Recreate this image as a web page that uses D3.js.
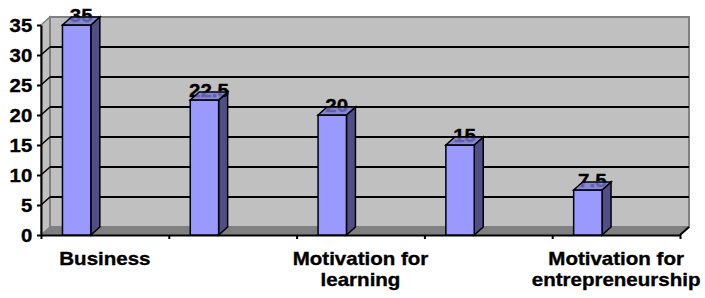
<!DOCTYPE html>
<html>
<head>
<meta charset="utf-8">
<script src="https://cdn.jsdelivr.net/npm/d3@7"></script>
<style>
  body { margin: 0; background: #fff; }
  text { font-family: "Liberation Sans", Arial, sans-serif; font-weight: bold; stroke: #000; stroke-width: 0.35px; }
</style>
</head>
<body>
<div id="chart"></div>
<script>
// chart data
const categories = ['Business', '', 'Motivation for learning', '', 'Motivation for entrepreneurship'];
const labelLines = [['Business'], [], ['Motivation for', 'learning'], [], ['Motivation for', 'entrepreneurship']];
const values = [35, 22.5, 20, 15, 7.5];
const yTicks = [0, 5, 10, 15, 20, 25, 30, 35];

const width = 705;
const height = 298;
const plotLeft = 41, plotRight = 680, plotBottom = 235, plotTop = 25;
const dx = 9, dy = -8;   // 3d depth offset
const stretch = 1.14;

const svg = d3.select('#chart')
    .append('svg')
    .attr('width', width)
    .attr('height', height);

const y = d3.scaleLinear()
    .domain([0, 35])
    .range([plotBottom, plotTop]);

const x = d3.scaleBand()
    .domain(d3.range(categories.length))
    .range([plotLeft, plotRight]);

const xEdge = d3.scaleLinear()
    .domain([0, categories.length])
    .range([plotLeft, plotRight]);

const bw = x.bandwidth();

// walls and floor
svg.append('polygon')
    .attr('points', [[plotLeft, plotBottom], [plotRight, plotBottom], [plotRight + dx, plotBottom + dy], [plotLeft + dx, plotBottom + dy]].join(' '))
    .attr('fill', '#808080');

svg.append('polygon')
    .attr('points', [[plotLeft, y(35)], [plotLeft + dx, y(35) + dy], [plotLeft + dx, plotBottom + dy], [plotLeft, plotBottom]].join(' '))
    .attr('fill', '#c0c0c0')
    .attr('stroke', '#808080')
    .attr('stroke-width', 1.5);

svg.append('rect')
    .attr('x', plotLeft + dx)
    .attr('y', y(35) + dy)
    .attr('width', plotRight - plotLeft)
    .attr('height', plotBottom - y(35))
    .attr('fill', '#c0c0c0')
    .attr('stroke', '#808080')
    .attr('stroke-width', 2);

// gridlines on side and back wall
const grid = svg.append('g').attr('stroke', '#000').attr('stroke-width', 2);
grid.selectAll('line.back')
    .data(yTicks.filter(d => d > 0 && d < 35))
    .enter()
    .append('line')
    .attr('class', 'back')
    .attr('x1', plotLeft + dx)
    .attr('x2', plotRight + dx)
    .attr('y1', d => y(d) + dy)
    .attr('y2', d => y(d) + dy);

grid.selectAll('line.side')
    .data(yTicks.filter(d => d > 0 && d < 35))
    .enter()
    .append('line')
    .attr('class', 'side')
    .attr('stroke-width', 1.5)
    .attr('x1', plotLeft)
    .attr('x2', plotLeft + dx)
    .attr('y1', d => y(d))
    .attr('y2', d => y(d) + dy);

// y axis
const yAxis = svg.append('g')
    .attr('transform', 'translate(' + plotLeft + ',0)')
    .call(d3.axisLeft(y).tickValues(yTicks).tickSize(4).tickPadding(4).tickSizeOuter(0));
yAxis.select('.domain').attr('stroke', '#000').attr('stroke-width', 2);
yAxis.selectAll('.tick line').attr('stroke', '#000').attr('stroke-width', 2);
yAxis.selectAll('.tick text')
    .attr('fill', '#000')
    .attr('transform', 'scale(1.1,1)')
    .style('font-size', '18.5px')
    .style('font-family', '"Liberation Sans", Arial, sans-serif')
    .style('font-weight', 'bold')
    .attr('dy', '0.36em');

// x axis
const xAxis = svg.append('g')
    .attr('transform', 'translate(0,' + plotBottom + ')')
    .call(d3.axisBottom(xEdge).ticks(categories.length).tickFormat('').tickSize(4).tickSizeOuter(0));
xAxis.select('.domain').attr('stroke', '#000').attr('stroke-width', 2);
xAxis.selectAll('.tick line').attr('stroke', '#000').attr('stroke-width', 2);

svg.append('line')
    .attr('x1', plotRight).attr('y1', plotBottom)
    .attr('x2', plotRight + dx).attr('y2', plotBottom + dy)
    .attr('stroke', '#000').attr('stroke-width', 2);

// bars
const bars = svg.selectAll('g.bar')
    .data(values)
    .enter()
    .append('g')
    .attr('class', 'bar');

const bx = (d, i) => x(i) + bw * 0.168;
const bwid = bw * 0.222;

bars.append('polygon')
    .attr('points', (d, i) => [[bx(d, i) + bwid, y(d)], [bx(d, i) + bwid + dx, y(d) + dy], [bx(d, i) + bwid + dx, plotBottom + dy], [bx(d, i) + bwid, plotBottom]].join(' '))
    .attr('fill', '#4f4f85')
    .attr('stroke', '#000')
    .attr('stroke-width', 1.5);

bars.append('rect')
    .attr('x', bx)
    .attr('y', d => y(d))
    .attr('width', bwid)
    .attr('height', d => plotBottom - y(d))
    .attr('fill', '#9999ff')
    .attr('stroke', '#000')
    .attr('stroke-width', 1.5);

bars.append('text')
    .attr('transform', (d, i) => 'translate(' + (bx(d, i) + bwid / 2 + dx / 2) + ',' + (y(d) - 3) + ') scale(' + stretch + ',1)')
    .attr('text-anchor', 'middle')
    .style('font-size', '18px')
    .attr('fill', '#000')
    .text(d => d);

bars.append('polygon')
    .attr('points', (d, i) => [[bx(d, i), y(d)], [bx(d, i) + bwid, y(d)], [bx(d, i) + bwid + dx, y(d) + dy], [bx(d, i) + dx, y(d) + dy]].join(' '))
    .attr('fill', '#7878d8')
    .attr('fill-opacity', 0.8)
    .attr('stroke', '#000')
    .attr('stroke-width', 1.5);

// category labels
const labels = svg.selectAll('text.cat')
    .data(labelLines)
    .enter()
    .append('text')
    .attr('class', 'cat')
    .attr('transform', (d, i) => 'translate(' + (x(i) + bw / 2) + ',0) scale(' + stretch + ',1)')
    .attr('text-anchor', 'middle')
    .style('font-size', '18px')
    .attr('fill', '#000');

labels.selectAll('tspan')
    .data(d => d)
    .enter()
    .append('tspan')
    .attr('x', 0)
    .attr('y', (d, j) => 265 + j * 21)
    .text(d => d);
</script>
</body>
</html>
